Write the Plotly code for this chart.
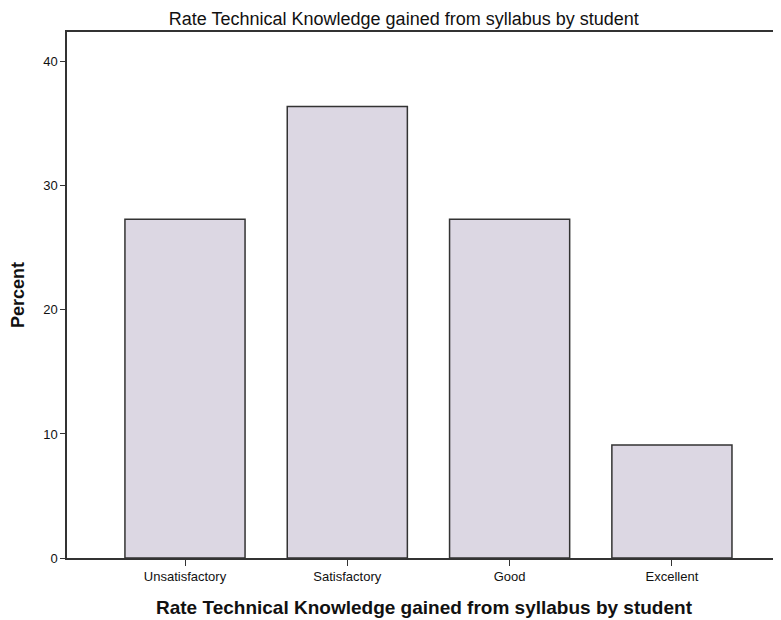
import plotly.graph_objects as go

# ratings and percent of students
categories = ["Unsatisfactory", "Satisfactory", "Good", "Excellent"]
percent = [27.3, 36.4, 27.3, 9.1]
y_ticks = [0, 10, 20, 30, 40]

TITLE = "Rate Technical Knowledge gained from syllabus by student"
FONT = "Liberation Sans, Arial, sans-serif"

fig = go.Figure()
fig.add_trace(go.Bar(
    x=categories, y=percent, width=0.74,
    marker=dict(color="#dcd7e3", line=dict(color="#333333", width=1.5)),
))

# page body has an 8px margin, so the figure is sized to fit the window
fig.update_layout(
    width=773, height=612,
    margin=dict(l=59, r=0, t=24, b=62),
    paper_bgcolor="white", plot_bgcolor="white",
    font=dict(family=FONT, color="#111111"),
    showlegend=False,
    title=dict(text=TITLE, x=0.512, xanchor="center", y=0.982, yanchor="middle",
               yref="container", font=dict(size=18, color="#111111")),
    xaxis=dict(range=[-0.727, 3.672], showline=True, linecolor="#333333", linewidth=1.5,
               mirror=True, ticks="outside", ticklen=6, tickcolor="#333333",
               tickfont=dict(size=13), showgrid=False,
               title=dict(text="<b>" + TITLE + "</b>", font=dict(size=19), standoff=17)),
    yaxis=dict(range=[0, 42.4], tickvals=y_ticks, showline=True, linecolor="#333333", linewidth=1.5,
               ticks="outside", ticklen=5, tickcolor="#333333", tickfont=dict(size=13),
               showgrid=False, zeroline=False,
               title=dict(text="<b>Percent</b>", font=dict(size=18), standoff=14)),
)

fig.write_html("out.html")
